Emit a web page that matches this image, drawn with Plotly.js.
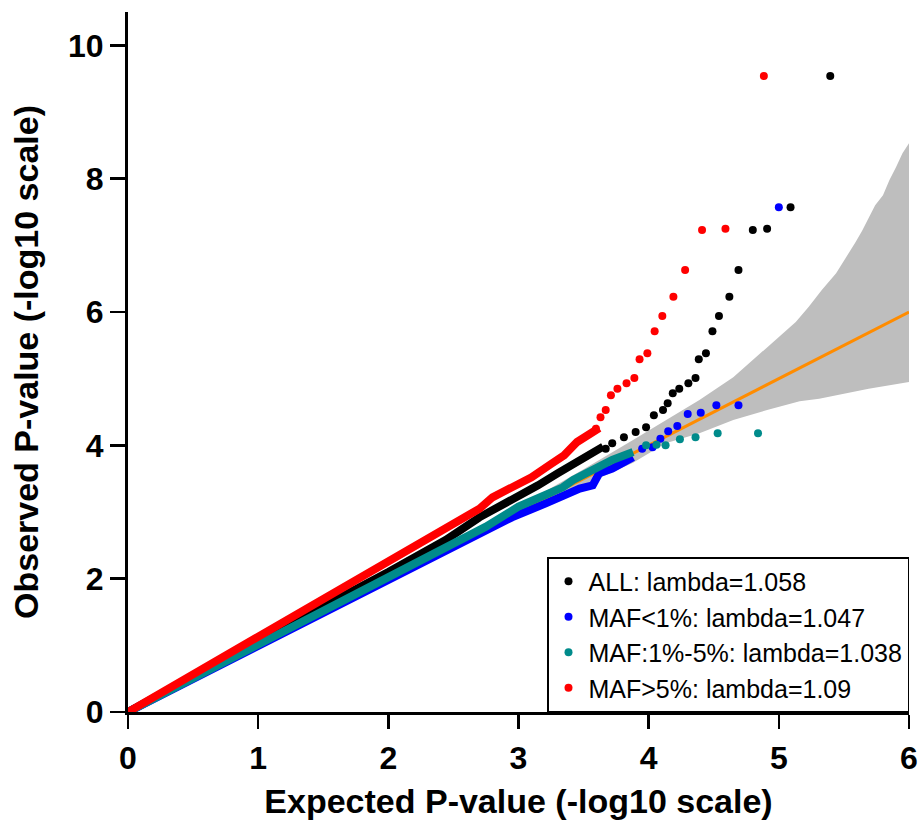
<!DOCTYPE html>
<html><head><meta charset="utf-8">
<script src="https://cdn.plot.ly/plotly-3.0.1.min.js"></script>
<style>html,body{margin:0;padding:0;background:#fff;}#chart{width:922px;height:826px;}</style>
</head><body><div id="chart"></div>
<script>
// Series labels
const seriesLabels = ["ALL: lambda=1.058", "MAF<1%: lambda=1.047", "MAF:1%-5%: lambda=1.038", "MAF>5%: lambda=1.09"];
const seriesColors = ["#000000", "#0000FF", "#008B8B", "#FF0000"];

// Confidence band (expected vs observed -log10 p)
const bandUpperX = [0, 1, 2, 3, 3.5, 3.88, 4.13, 4.39, 4.65, 4.92, 5.03, 5.13, 5.23, 5.33, 5.44, 5.54, 5.59, 5.64, 5.69, 5.74, 5.80, 5.85, 5.90, 5.95, 6.0];
const bandUpperY = [0, 1.01, 2.03, 3.08, 3.64, 4.08, 4.38, 4.68, 5.02, 5.48, 5.68, 5.85, 6.08, 6.33, 6.58, 6.88, 7.05, 7.22, 7.42, 7.60, 7.75, 7.98, 8.17, 8.38, 8.53];
const bandLowerX = [6.0, 5.69, 5.44, 5.31, 5.16, 4.91, 4.65, 4.39, 4.13, 3.88, 3.5, 3, 2, 1, 0];
const bandLowerY = [4.95, 4.85, 4.75, 4.70, 4.66, 4.53, 4.38, 4.18, 4.03, 3.74, 3.40, 2.93, 1.98, 0.99, 0];

// Reference line y = x
const refX = [0, 6];
const refY = [0, 6];

// ALL (black): dense body and tail points
const allDenseX = [0, 1.0, 2.0, 2.2, 2.44, 2.7, 2.95, 3.15, 3.3, 3.5, 3.65];
const allDenseY = [0, 1.07, 2.10, 2.33, 2.58, 2.92, 3.18, 3.40, 3.58, 3.80, 3.98];
const allTailX = [3.67, 3.72, 3.81, 3.90, 3.98, 4.04, 4.11, 4.146, 4.185, 4.235, 4.305, 4.36, 4.385, 4.44, 4.49, 4.54, 4.62, 4.69, 4.80, 4.91, 5.09, 5.395];
const allTailY = [3.95, 4.03, 4.12, 4.20, 4.27, 4.45, 4.53, 4.63, 4.78, 4.85, 4.93, 5.01, 5.29, 5.38, 5.71, 5.94, 6.23, 6.63, 7.23, 7.25, 7.57, 9.54];

// MAF<1% (blue)
const rareDenseX = [0, 1, 2, 2.44, 2.95, 3.21, 3.47, 3.57, 3.62, 3.72, 3.88];
const rareDenseY = [0, 1.0, 2.0, 2.42, 2.92, 3.13, 3.35, 3.40, 3.58, 3.65, 3.82];
const rareTailX = [3.95, 4.03, 4.09, 4.15, 4.22, 4.30, 4.40, 4.52, 4.69, 5.0];
const rareTailY = [3.95, 3.97, 4.10, 4.21, 4.29, 4.47, 4.49, 4.60, 4.60, 7.57];

// MAF:1%-5% (teal)
const lowDenseX = [0, 1, 2, 2.44, 2.75, 3.0, 3.16, 3.34, 3.42, 3.57, 3.72, 3.88];
const lowDenseY = [0, 1.01, 2.02, 2.47, 2.78, 3.08, 3.22, 3.37, 3.48, 3.63, 3.78, 3.90];
const lowTailX = [3.98, 4.06, 4.13, 4.24, 4.36, 4.53, 4.84];
const lowTailY = [4.00, 4.01, 4.00, 4.09, 4.12, 4.18, 4.18];

// MAF>5% (red)
const commonDenseX = [0, 0.5, 1.0, 1.5, 2.0, 2.3, 2.5, 2.7, 2.8, 2.95, 3.1, 3.25, 3.35, 3.45, 3.55, 3.62];
const commonDenseY = [0, 0.56, 1.13, 1.69, 2.26, 2.58, 2.80, 3.05, 3.22, 3.36, 3.52, 3.72, 3.85, 4.05, 4.18, 4.26];
const commonTailX = [3.595, 3.63, 3.67, 3.71, 3.76, 3.83, 3.89, 3.93, 3.99, 4.046, 4.105, 4.19, 4.28, 4.41, 4.59, 4.885];
const commonTailY = [4.25, 4.42, 4.53, 4.75, 4.85, 4.93, 5.01, 5.29, 5.38, 5.71, 5.94, 6.23, 6.63, 7.23, 7.25, 9.54];

const xTicks = [0, 1, 2, 3, 4, 5, 6];
const yTicks = [0, 2, 4, 6, 8, 10];

const FONT = "Liberation Sans, Arial, sans-serif";

const dense = [[allDenseX, allDenseY], [rareDenseX, rareDenseY], [lowDenseX, lowDenseY], [commonDenseX, commonDenseY]];
const tails = [[allTailX, allTailY], [rareTailX, rareTailY], [lowTailX, lowTailY], [commonTailX, commonTailY]];

const traces = [];
traces.push({
  x: bandUpperX.concat(bandLowerX), y: bandUpperY.concat(bandLowerY),
  type: 'scatter', mode: 'lines', fill: 'toself', fillcolor: '#BEBEBE',
  line: {width: 0, color: '#BEBEBE'}, showlegend: false, hoverinfo: 'skip'
});
traces.push({
  x: refX, y: refY, type: 'scatter', mode: 'lines',
  line: {color: '#FF8C00', width: 3}, showlegend: false, hoverinfo: 'skip'
});
for (let i = 0; i < 4; i++) {
  traces.push({
    x: dense[i][0], y: dense[i][1], type: 'scatter', mode: 'lines',
    line: {color: seriesColors[i], width: 8}, showlegend: false, legendgroup: 'g' + i
  });
  traces.push({
    x: tails[i][0], y: tails[i][1], type: 'scatter', mode: 'markers',
    marker: {color: seriesColors[i], size: 8, symbol: 'circle'},
    name: seriesLabels[i], legendgroup: 'g' + i
  });
}

const layout = {
  width: 922, height: 826,
  margin: {l: 128, r: 13, t: 12, b: 114},
  paper_bgcolor: '#ffffff', plot_bgcolor: '#ffffff',
  font: {family: FONT, color: '#000'},
  showlegend: true,
  legend: {
    x: 1, y: 0, xanchor: 'right', yanchor: 'bottom',
    bordercolor: '#000', borderwidth: 1.5, bgcolor: '#ffffff',
    font: {family: FONT, size: 25, color: '#000'},
    traceorder: 'normal', itemwidth: 30
  },
  xaxis: {
    range: [0, 6], tickvals: xTicks, ticktext: xTicks.map(String),
    ticks: 'outside', ticklen: 14, tickwidth: 2.5, tickcolor: '#000',
    showline: true, linewidth: 3, linecolor: '#000',
    showgrid: false, zeroline: false, ticklabelstandoff: 2,
    tickfont: {family: FONT, size: 32, weight: 'bold', color: '#000'},
    title: {text: 'Expected P-value (-log10 scale)', font: {family: FONT, size: 34, weight: 'bold', color: '#000'}, standoff: 14}
  },
  yaxis: {
    range: [0, 10.5], tickvals: yTicks, ticktext: yTicks.map(String),
    ticks: 'outside', ticklen: 15, tickwidth: 2.5, tickcolor: '#000',
    showline: true, linewidth: 3, linecolor: '#000',
    showgrid: false, zeroline: false,
    tickfont: {family: FONT, size: 32, weight: 'bold', color: '#000'},
    title: {text: 'Observed P-value (-log10 scale)', font: {family: FONT, size: 34, weight: 'bold', color: '#000'}, standoff: 20}
  }
};

Plotly.newPlot('chart', traces, layout, {displayModeBar: false, staticPlot: true});
</script>
</body></html>
